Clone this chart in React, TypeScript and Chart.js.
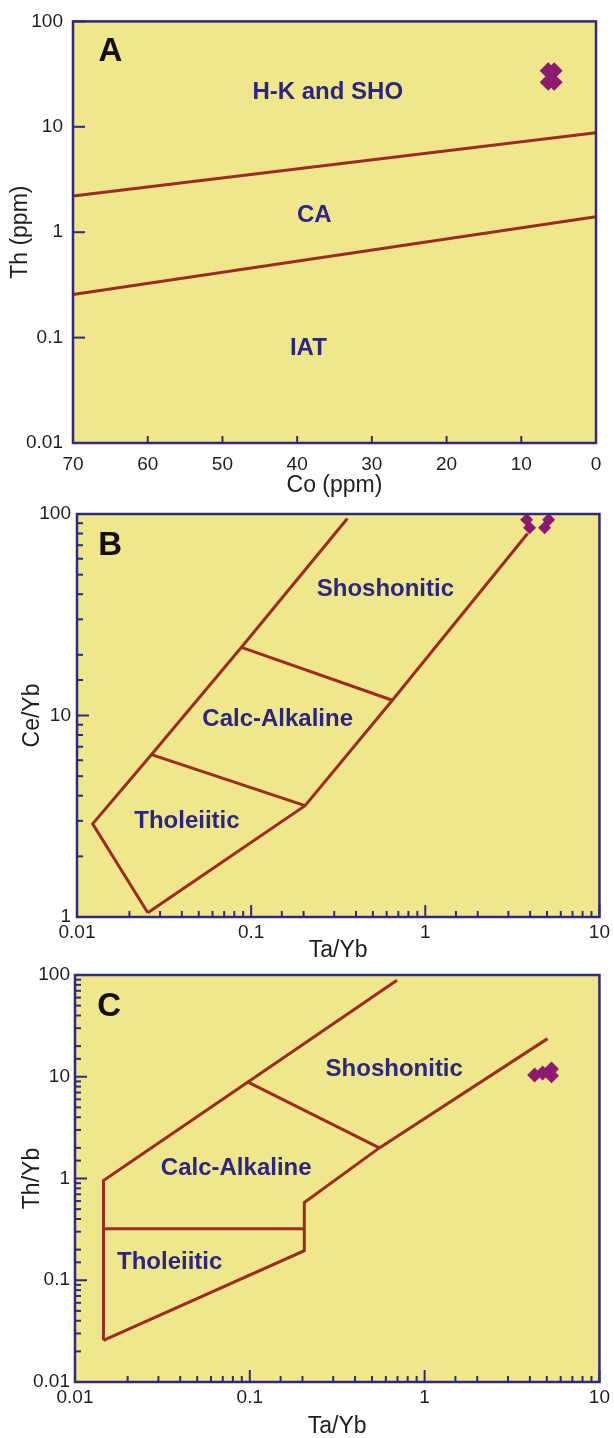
import React, { useEffect, useRef } from 'react';
import { Chart, registerables } from 'chart.js';

Chart.register(...registerables);

const FONT = '"Liberation Sans", Arial, Helvetica, sans-serif';
const NAVY = '#2e2a7c';
const LINE = '#9c2b24';
const FILL = '#f0e68c';
const MARK = '#8c1a6e';
const LABEL = '#2b2583';
const TICKTEXT = '#1e1e1e';

type Pt = { x: number; y: number };
type Lbl = { text: string; x: number; y: number };

// ---------- Panel A: Th vs Co ----------
const coTickStep = 10;
const coRange = [0, 70];
const thRange = [0.01, 100];
const aUpperDivide: Pt[] = [{ x: 70, y: 2.2 }, { x: 0, y: 8.8 }];
const aLowerDivide: Pt[] = [{ x: 70, y: 0.256 }, { x: 0, y: 1.4 }];
const aSamples: Pt[] = [
  { x: 6.4, y: 34.1 }, { x: 5.6, y: 34.1 },
  { x: 6.4, y: 26.4 }, { x: 5.6, y: 26.4 },
];
const aLabels: Lbl[] = [
  { text: 'H-K and SHO', x: 35.9, y: 21.1 },
  { text: 'CA', x: 37.7, y: 1.43 },
  { text: 'IAT', x: 38.5, y: 0.079 },
];
const aLetter: Lbl = { text: 'A', x: 65.0, y: 51.6 };

// ---------- Panel B: Ce/Yb vs Ta/Yb ----------
const bXRange = [0.01, 10];
const bYRange = [1, 100];
const bLeftBoundary: Pt[] = [
  { x: 0.0255, y: 1.05 }, { x: 0.0123, y: 2.9 }, { x: 0.0268, y: 6.4 },
  { x: 0.088, y: 21.8 }, { x: 0.357, y: 95 },
];
const bRightBoundary: Pt[] = [
  { x: 0.0255, y: 1.05 }, { x: 0.204, y: 3.57 }, { x: 0.647, y: 11.9 }, { x: 3.87, y: 80 },
];
const bLowerDivide: Pt[] = [{ x: 0.0268, y: 6.4 }, { x: 0.204, y: 3.57 }];
const bUpperDivide: Pt[] = [{ x: 0.088, y: 21.8 }, { x: 0.647, y: 11.9 }];
const bSamples: Pt[] = [
  { x: 3.82, y: 93.7 }, { x: 3.97, y: 85.5 }, { x: 5.11, y: 93.7 }, { x: 4.84, y: 85.5 },
];
const bLabels: Lbl[] = [
  { text: 'Shoshonitic', x: 0.59, y: 42.4 },
  { text: 'Calc-Alkaline', x: 0.142, y: 9.55 },
  { text: 'Tholeiitic', x: 0.0428, y: 2.98 },
];
const bLetter: Lbl = { text: 'B', x: 0.0155, y: 69.8 };

// ---------- Panel C: Th/Yb vs Ta/Yb ----------
const cXRange = [0.01, 10];
const cYRange = [0.01, 100];
const cUpperBoundary: Pt[] = [
  { x: 0.01455, y: 0.0257 }, { x: 0.01455, y: 0.956 }, { x: 0.0976, y: 8.87 }, { x: 0.695, y: 89 },
];
const cLowerBoundary: Pt[] = [
  { x: 0.01455, y: 0.0257 }, { x: 0.205, y: 0.195 }, { x: 0.205, y: 0.58 },
  { x: 0.551, y: 2.0 }, { x: 5.05, y: 23.7 },
];
const cTholDivide: Pt[] = [{ x: 0.01455, y: 0.32 }, { x: 0.205, y: 0.32 }];
const cShoDivide: Pt[] = [{ x: 0.0976, y: 8.87 }, { x: 0.551, y: 2.0 }];
const cSamples: Pt[] = [
  { x: 4.26, y: 10.4 }, { x: 4.73, y: 10.9 }, { x: 5.32, y: 11.9 }, { x: 5.32, y: 10.2 },
];
const cLabels: Lbl[] = [
  { text: 'Shoshonitic', x: 0.67, y: 11.8 },
  { text: 'Calc-Alkaline', x: 0.0836, y: 1.26 },
  { text: 'Tholeiitic', x: 0.0348, y: 0.151 },
];
const cLetter: Lbl = { text: 'C', x: 0.0157, y: 48.8 };

function isPow10(v: number) {
  const l = Math.log10(v);
  return Math.abs(l - Math.round(l)) < 1e-6;
}
function fmt(v: number) {
  return String(parseFloat(Number(v).toPrecision(4)));
}

interface Spec {
  top: number;
  height: number;
  padTop: number;
  padRight: number;
  yWidth: number;
  xHeight: number;
  xLog: boolean;
  xMin: number;
  xMax: number;
  xReverse: boolean;
  yMin: number;
  yMax: number;
  xTitle: string;
  yTitle: string;
  yTitlePad: number;
  xTitlePad: number;
  xTickPad: number;
  yTickPad: number;
  yMinor: boolean;
  lines: Pt[][];
  samples: Pt[];
  sampleRadius: number;
  labels: Lbl[];
  letter: Lbl;
}

function makeDecor(spec: Spec) {
  return {
    id: 'decor',
    beforeDraw(chart: any) {
      const { ctx, chartArea: a } = chart;
      ctx.save();
      ctx.fillStyle = FILL;
      ctx.fillRect(a.left, a.top, a.right - a.left, a.bottom - a.top);
      ctx.restore();
    },
    afterDraw(chart: any) {
      const { ctx, chartArea: a, scales } = chart;
      const xs = scales.x;
      const ys = scales.y;
      ctx.save();
      ctx.textAlign = 'center';
      ctx.textBaseline = 'middle';
      ctx.fillStyle = LABEL;
      ctx.font = `bold 24px ${FONT}`;
      for (const l of spec.labels) {
        ctx.fillText(l.text, xs.getPixelForValue(l.x), ys.getPixelForValue(l.y));
      }
      ctx.fillStyle = '#111';
      ctx.font = `bold 33px ${FONT}`;
      ctx.fillText(spec.letter.text, xs.getPixelForValue(spec.letter.x), ys.getPixelForValue(spec.letter.y));

      ctx.strokeStyle = NAVY;
      ctx.lineWidth = 2;
      for (const t of xs.ticks) {
        const px = xs.getPixelForValue(t.value);
        const len = spec.xLog ? (isPow10(t.value) ? 12 : 6) : 7;
        ctx.beginPath();
        ctx.moveTo(px, a.bottom);
        ctx.lineTo(px, a.bottom - len);
        ctx.stroke();
      }
      for (const t of ys.ticks) {
        const major = isPow10(t.value);
        if (!major && !spec.yMinor) continue;
        const py = ys.getPixelForValue(t.value);
        const len = major ? 12 : 6;
        ctx.beginPath();
        ctx.moveTo(a.left, py);
        ctx.lineTo(a.left + len, py);
        ctx.stroke();
      }
      ctx.lineWidth = 2.5;
      ctx.strokeRect(a.left, a.top, a.right - a.left, a.bottom - a.top);
      ctx.restore();
    },
  };
}

function buildConfig(spec: Spec): any {
  const datasets: any[] = spec.lines.map((pts) => ({
    data: pts,
    showLine: true,
    borderColor: LINE,
    borderWidth: 3,
    pointRadius: 0,
    fill: false,
    tension: 0,
  }));
  datasets.push({
    data: spec.samples,
    showLine: false,
    pointStyle: 'rectRot',
    pointRadius: spec.sampleRadius,
    backgroundColor: MARK,
    borderColor: MARK,
    borderWidth: 0,
  });
  const tickFont = { family: FONT, size: 19 };
  const titleFont = { family: FONT, size: 23 };
  return {
    type: 'scatter',
    data: { datasets },
    options: {
      responsive: false,
      animation: false,
      devicePixelRatio: 1,
      layout: { padding: { left: 0, top: spec.padTop, right: spec.padRight, bottom: 0 } },
      plugins: { legend: { display: false }, tooltip: { enabled: false } },
      scales: {
        x: {
          type: spec.xLog ? 'logarithmic' : 'linear',
          min: spec.xMin,
          max: spec.xMax,
          reverse: spec.xReverse,
          afterFit: (s: any) => { s.height = spec.xHeight; },
          grid: { display: false, drawTicks: false },
          border: { display: false },
          ticks: {
            autoSkip: false,
            maxRotation: 0,
            minRotation: 0,
            padding: spec.xTickPad,
            color: TICKTEXT,
            font: tickFont,
            ...(spec.xLog
              ? { callback: (v: any) => (isPow10(Number(v)) ? fmt(Number(v)) : '') }
              : { stepSize: coTickStep }),
          },
          title: {
            display: true,
            text: spec.xTitle,
            color: TICKTEXT,
            font: titleFont,
            padding: { top: 0, bottom: spec.xTitlePad },
          },
        },
        y: {
          type: 'logarithmic',
          min: spec.yMin,
          max: spec.yMax,
          afterFit: (s: any) => { s.width = spec.yWidth; },
          grid: { display: false, drawTicks: false },
          border: { display: false },
          ticks: {
            autoSkip: false,
            padding: spec.yTickPad,
            color: TICKTEXT,
            font: tickFont,
            callback: (v: any) => (isPow10(Number(v)) ? fmt(Number(v)) : ''),
          },
          title: {
            display: true,
            text: spec.yTitle,
            color: TICKTEXT,
            font: titleFont,
            padding: { top: spec.yTitlePad, bottom: 0 },
          },
        },
      },
    },
    plugins: [makeDecor(spec)],
  };
}

const specA: Spec = {
  top: 0, height: 500, padTop: 15, padRight: 18, yWidth: 73, xHeight: 57,
  xLog: false, xMin: coRange[0], xMax: coRange[1], xReverse: true,
  yMin: thRange[0], yMax: thRange[1],
  xTitle: 'Co (ppm)', yTitle: 'Th (ppm)', yTitlePad: 7, xTitlePad: 1,
  xTickPad: 10, yTickPad: 10, yMinor: false,
  lines: [aUpperDivide, aLowerDivide], samples: aSamples, sampleRadius: 8.5,
  labels: aLabels, letter: aLetter,
};

const specB: Spec = {
  top: 480, height: 490, padTop: 34, padRight: 13, yWidth: 77, xHeight: 53,
  xLog: true, xMin: bXRange[0], xMax: bXRange[1], xReverse: false,
  yMin: bYRange[0], yMax: bYRange[1],
  xTitle: 'Ta/Yb', yTitle: 'Ce/Yb', yTitlePad: 19, xTitlePad: 6,
  xTickPad: 4, yTickPad: 6, yMinor: true,
  lines: [bLeftBoundary, bRightBoundary, bLowerDivide, bUpperDivide], samples: bSamples, sampleRadius: 6.5,
  labels: bLabels, letter: bLetter,
};

const specC: Spec = {
  top: 940, height: 498, padTop: 35, padRight: 12, yWidth: 75, xHeight: 56,
  xLog: true, xMin: cXRange[0], xMax: cXRange[1], xReverse: false,
  yMin: cYRange[0], yMax: cYRange[1],
  xTitle: 'Ta/Yb', yTitle: 'Th/Yb', yTitlePad: 19, xTitlePad: -2,
  xTickPad: 4, yTickPad: 5, yMinor: true,
  lines: [cUpperBoundary, cLowerBoundary, cTholDivide, cShoDivide], samples: cSamples, sampleRadius: 7.5,
  labels: cLabels, letter: cLetter,
};

function Panel({ spec }: { spec: Spec }) {
  const ref = useRef<HTMLCanvasElement | null>(null);
  useEffect(() => {
    if (!ref.current) return;
    const chart = new Chart(ref.current, buildConfig(spec));
    return () => chart.destroy();
  }, [spec]);
  return (
    <canvas
      ref={ref}
      width={614}
      height={spec.height}
      style={{ position: 'absolute', left: 0, top: spec.top, width: 614, height: spec.height }}
    />
  );
}

export default function App() {
  useEffect(() => {
    document.body.style.margin = '0';
  }, []);
  return (
    <div style={{ position: 'absolute', left: 0, top: 0, width: 614, height: 1438, overflow: 'hidden', background: '#fff' }}>
      <Panel spec={specA} />
      <Panel spec={specB} />
      <Panel spec={specC} />
    </div>
  );
}
